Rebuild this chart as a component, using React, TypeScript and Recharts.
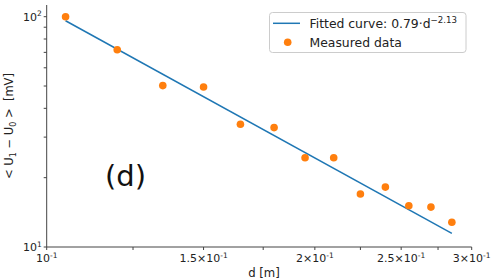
// Log-log plot: voltage difference vs distance, with fitted power law

import { ScatterChart, Scatter, XAxis, YAxis } from 'recharts';

const distances = [0.105, 0.12, 0.135, 0.15, 0.165, 0.18, 0.195, 0.21, 0.225, 0.24, 0.255, 0.27, 0.285];
const voltages = [100, 71.9, 50.2, 49.5, 34.1, 33.0, 24.4, 24.4, 17.0, 18.2, 15.1, 14.9, 12.8];

// fitted curve 0.79·d^-2.13, a straight line on log-log, read at both ends
const fitDistances = [0.105, 0.285];
const fitVoltages = [96.0, 11.45];

const xTicks = [0.1, 0.125, 0.15, 0.175, 0.2, 0.225, 0.25, 0.275, 0.3];
const xTickLabels = ['10', '', '1.5×10', '', '2×10', '', '2.5×10', '', '3×10'];
const yTicks = [10, 20, 30, 40, 50, 60, 70, 80, 90, 100];
const yTickLabels: Record<number, string> = { 10: '1', 100: '2' };

const BLUE = '#1f77b4';
const ORANGE = '#ff7f0e';
const AXIS = '#444';
const FONT = '"DejaVu Sans", sans-serif';

const measured = distances.map((d, i) => ({ d, u: voltages[i] }));
const fitted = fitDistances.map((d, i) => ({ d, u: fitVoltages[i] }));

function XTick(props: any) {
  const { x, y, payload } = props;
  const label = xTickLabels[payload.index];
  if (!label) return null;
  return (
    <text x={x} y={y + 10} textAnchor="middle" fontSize={11} fill="#222" fontFamily={FONT}>
      <tspan>{label}</tspan>
      <tspan dy={-4.5} fontSize={7.5}>-1</tspan>
    </text>
  );
}

function YTick(props: any) {
  const { x, y, payload } = props;
  const exp = yTickLabels[payload.value];
  if (!exp) return null;
  return (
    <text x={x} y={y + 4} textAnchor="end" fontSize={11} fill="#222" fontFamily={FONT}>
      <tspan>10</tspan>
      <tspan dy={-4.5} fontSize={7.5}>{exp}</tspan>
    </text>
  );
}

export default function App() {
  return (
    <div style={{ position: 'absolute', left: 0, top: 0, width: 498, height: 280, background: '#fff' }}>
      <ScatterChart width={498} height={280} margin={{ top: 5, right: 26.3, bottom: 0, left: 0 }}>
        <XAxis
          dataKey="d"
          type="number"
          scale="log"
          domain={[0.1, 0.3]}
          allowDataOverflow
          ticks={xTicks}
          interval={0}
          height={33}
          tickSize={3}
          stroke={AXIS}
          tick={<XTick />}
        />
        <XAxis xAxisId="top" orientation="top" type="number" scale="log" domain={[0.1, 0.3]} allowDataOverflow height={0} tick={false} tickLine={false} stroke={AXIS} />
        <YAxis
          dataKey="u"
          type="number"
          scale="log"
          domain={[10, 112.4]}
          allowDataOverflow
          ticks={yTicks}
          interval={0}
          width={46.7}
          tickSize={3}
          stroke={AXIS}
          tick={<YTick />}
        />
        <YAxis yAxisId="right" orientation="right" type="number" scale="log" domain={[10, 112.4]} allowDataOverflow width={0} tick={false} tickLine={false} stroke={AXIS} />

        <Scatter
          data={fitted}
          line={{ stroke: BLUE, strokeWidth: 1.5 }}
          shape={() => <g />}
          isAnimationActive={false}
        />
        <Scatter
          data={measured}
          fill={ORANGE}
          shape={(p: any) => <circle cx={p.cx} cy={p.cy} r={3.8} fill={ORANGE} />}
          isAnimationActive={false}
        />

        {/* axis titles and panel tag */}
        <text x={264} y={276.5} textAnchor="middle" fontSize={11.7} fill="#222" fontFamily={FONT}>d [m]</text>
        <text x={12.5} y={126} textAnchor="middle" fontSize={11.5} fill="#222" fontFamily={FONT} transform="rotate(-90, 12.5, 126)">
          <tspan>{'< U'}</tspan>
          <tspan dy={3} fontSize={8}>1</tspan>
          <tspan dy={-3}>{' − U'}</tspan>
          <tspan dy={3} fontSize={8}>0</tspan>
          <tspan dy={-3} style={{ whiteSpace: 'pre' }}>{' >  [mV]'}</tspan>
        </text>
        <text x={105} y={185.5} fontSize={29} fill="#111" fontFamily={FONT}>(d)</text>

        {/* legend */}
        <rect x={269.5} y={12.5} width={196.5} height={40} rx={3} fill="#fff" fillOpacity={0.8} stroke="#ccc" />
        <line x1={273} x2={300} y1={23.3} y2={23.3} stroke={BLUE} strokeWidth={1.5} />
        <text x={309.5} y={27.6} fontSize={12.4} fill="#222" fontFamily={FONT}>
          <tspan>Fitted curve: 0.79·d</tspan>
          <tspan dy={-5} fontSize={8.6}>−2.13</tspan>
        </text>
        <circle cx={287.7} cy={42.3} r={3.8} fill={ORANGE} />
        <text x={309.5} y={46.6} fontSize={12.4} fill="#222" fontFamily={FONT}>Measured data</text>
      </ScatterChart>
    </div>
  );
}
